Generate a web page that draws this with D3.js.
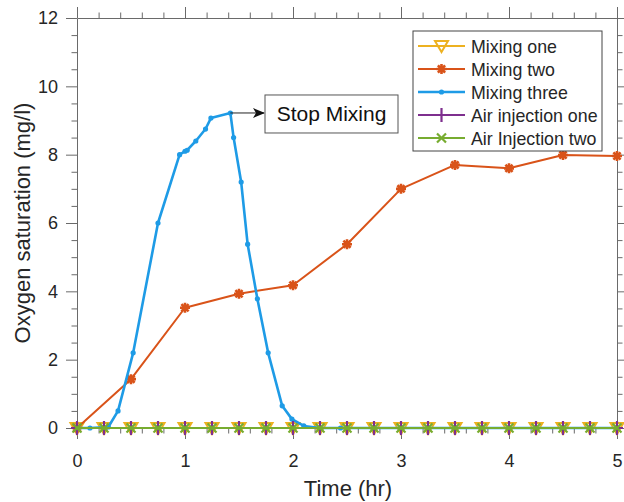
<!DOCTYPE html>
<html>
<head>
<meta charset="utf-8">
<script src="https://cdn.jsdelivr.net/npm/d3@7"></script>
<style>
  body { margin: 0; background: #fff; }
  svg { display: block; font-family: "Liberation Sans", Arial, sans-serif; }
</style>
</head>
<body>
<div id="chart"></div>
<script>
// time grid for the flat series (hr)
const timesFlat = [0, 0.25, 0.5, 0.75, 1, 1.25, 1.5, 1.75, 2, 2.25, 2.5, 2.75, 3, 3.25, 3.5, 3.75, 4, 4.25, 4.5, 4.75, 5];
const mixingOne = [0, 0, 0, 0, 0, 0, 0, 0, 0, 0, 0, 0, 0, 0, 0, 0, 0, 0, 0, 0, 0];
const airOne    = [0, 0, 0, 0, 0, 0, 0, 0, 0, 0, 0, 0, 0, 0, 0, 0, 0, 0, 0, 0, 0];
const airTwo    = [0, 0, 0, 0, 0, 0, 0, 0, 0, 0, 0, 0, 0, 0, 0, 0, 0, 0, 0, 0, 0];

const timesTwo = [0, 0.5, 1, 1.5, 2, 2.5, 3, 3.5, 4, 4.5, 5];
const mixingTwo = [0, 1.43, 3.52, 3.93, 4.18, 5.38, 7.0, 7.7, 7.6, 7.99, 7.96];

const timesThree = [0, 0.12, 0.29, 0.38, 0.52, 0.75, 0.95, 1.0, 1.02, 1.1, 1.19, 1.24, 1.42, 1.45, 1.52, 1.58,
                    1.67, 1.77, 1.9, 1.99, 2.1, 2.25, 2.44, 2.75, 3, 3.5, 4, 4.5, 5];
const mixingThree = [0, 0, 0.03, 0.5, 2.2, 6.0, 8.0, 8.1, 8.13, 8.4, 8.75, 9.07, 9.22, 8.5, 7.2, 5.38,
                     3.78, 2.2, 0.65, 0.26, 0.06, 0, 0, 0, 0, 0, 0, 0, 0];

const seriesNames = ["Mixing one", "Mixing two", "Mixing three", "Air injection one", "Air Injection two"];
const seriesColours = ["#EDB120", "#D95319", "#1E9BE6", "#7E2F8E", "#77AC30"];
const xTicks = [0, 1, 2, 3, 4, 5];
const yTicks = [0, 2, 4, 6, 8, 10, 12];
const annotation = { t: 1.42, v: 9.22, text: "Stop Mixing" };

const width = 624, height = 502;
const margin = { top: 18, right: 7, bottom: 74, left: 77 };
const axisGrey = "#6a6a6a";
const textCol = "#262626";

const svg = d3.select("#chart").append("svg")
  .attr("width", width).attr("height", height);

const x = d3.scaleLinear().domain([0, 5]).range([margin.left, width - margin.right]);
const y = d3.scaleLinear().domain([0, 12]).range([height - margin.bottom, margin.top]);

const xMinor = d3.range(0, 5.0001, 0.2).filter(v => Math.abs(v - Math.round(v)) > 1e-6);
const yMinor = d3.range(0, 12.0001, 0.5).filter(v => Math.abs(v / 2 - Math.round(v / 2)) > 1e-6);

function styleAxis(g) {
  g.select(".domain").attr("stroke", axisGrey).attr("stroke-width", 1);
  g.selectAll(".tick line").attr("stroke", axisGrey);
  g.selectAll(".tick text").attr("fill", textCol).style("font-size", "18px");
}

// bottom / top
const yBot = y(0), yTop = y(12), xLeft = x(0), xRight = x(5);
svg.append("g").attr("transform", `translate(0,${yBot})`)
  .call(d3.axisBottom(x).tickValues(xTicks).tickSize(11).tickSizeOuter(0).tickPadding(15).tickFormat(d3.format("d")))
  .call(styleAxis);
svg.append("g").attr("transform", `translate(0,${yBot})`)
  .call(d3.axisBottom(x).tickValues(xMinor).tickSize(5.5).tickFormat(""))
  .call(styleAxis).select(".domain").remove();
svg.append("g").attr("transform", `translate(0,${yTop})`)
  .call(d3.axisTop(x).tickValues(xTicks).tickSize(11).tickSizeOuter(0).tickFormat(""))
  .call(styleAxis);
svg.append("g").attr("transform", `translate(0,${yTop})`)
  .call(d3.axisTop(x).tickValues(xMinor).tickSize(5.5).tickFormat(""))
  .call(styleAxis).select(".domain").remove();

// left / right
svg.append("g").attr("transform", `translate(${xLeft},0)`)
  .call(d3.axisLeft(y).tickValues(yTicks).tickSize(11).tickSizeOuter(0).tickPadding(8).tickFormat(d3.format("d")))
  .call(styleAxis);
svg.append("g").attr("transform", `translate(${xLeft},0)`)
  .call(d3.axisLeft(y).tickValues(yMinor).tickSize(5.5).tickFormat(""))
  .call(styleAxis).select(".domain").remove();
svg.append("g").attr("transform", `translate(${xRight},0)`)
  .call(d3.axisRight(y).tickValues(yTicks).tickSize(11).tickSizeOuter(0).tickFormat(""))
  .call(styleAxis);
svg.append("g").attr("transform", `translate(${xRight},0)`)
  .call(d3.axisRight(y).tickValues(yMinor).tickSize(5.5).tickFormat(""))
  .call(styleAxis).select(".domain").remove();

// axis titles
svg.append("text")
  .attr("x", (xLeft + xRight) / 2 + 1).attr("y", 496)
  .attr("text-anchor", "middle").attr("fill", textCol)
  .style("font-size", "22px").text("Time (hr)");
svg.append("text")
  .attr("transform", `translate(30,${(yTop + yBot) / 2}) rotate(-90)`)
  .attr("text-anchor", "middle").attr("fill", textCol)
  .style("font-size", "22px").text("Oxygen saturation (mg/l)");

// marker painters
function marker(g, kind, colour) {
  if (kind === "tri") {
    g.append("path").attr("d", "M-6.5,-5 L6.5,-5 L0,6 Z")
      .attr("fill", "none").attr("stroke", colour).attr("stroke-width", 2);
  } else if (kind === "star") {
    g.append("path").attr("d", "M-5,0 L5,0 M0,-5 L0,5 M-3.6,-3.6 L3.6,3.6 M-3.6,3.6 L3.6,-3.6")
      .attr("stroke", colour).attr("stroke-width", 2.6);
  } else if (kind === "dot") {
    g.append("circle").attr("r", 2.6).attr("fill", colour);
  } else if (kind === "plus") {
    g.append("path").attr("d", "M-6,0 L6,0 M0,-7 L0,7")
      .attr("stroke", colour).attr("stroke-width", 2.2);
  } else if (kind === "cross") {
    g.append("path").attr("d", "M-4.5,-4.5 L4.5,4.5 M-4.5,4.5 L4.5,-4.5")
      .attr("stroke", colour).attr("stroke-width", 2.2);
  }
}

const series = [
  { name: seriesNames[0], t: timesFlat, v: mixingOne, colour: seriesColours[0], m: "tri", w: 2 },
  { name: seriesNames[1], t: timesTwo, v: mixingTwo, colour: seriesColours[1], m: "star", w: 2 },
  { name: seriesNames[2], t: timesThree, v: mixingThree, colour: seriesColours[2], m: "dot", w: 2.6 },
  { name: seriesNames[3], t: timesFlat, v: airOne, colour: seriesColours[3], m: "plus", w: 2 },
  { name: seriesNames[4], t: timesFlat, v: airTwo, colour: seriesColours[4], m: "cross", w: 2.2 }
];

const line = d3.line().x(d => x(d[0])).y(d => y(d[1]));
const plot = svg.append("g");

series.forEach(s => {
  const pts = s.t.map((t, i) => [t, s.v[i]]);
  const g = plot.append("g");
  g.append("path").datum(pts).attr("d", line)
    .attr("fill", "none").attr("stroke", s.colour).attr("stroke-width", s.w)
    .attr("stroke-linejoin", "round");
  pts.forEach(p => {
    marker(g.append("g").attr("transform", `translate(${x(p[0])},${y(p[1])})`), s.m, s.colour);
  });
});

// annotation arrow + box
const ax = x(annotation.t), ay = y(annotation.v);
const boxX = 265, boxW = 133, boxH = 38;
svg.append("defs").append("marker")
  .attr("id", "arrow").attr("viewBox", "0 0 12 10").attr("refX", 11).attr("refY", 5)
  .attr("markerWidth", 12).attr("markerHeight", 10).attr("markerUnits", "userSpaceOnUse")
  .attr("orient", "auto")
  .append("path").attr("d", "M0,0 L12,5 L0,10 L3,5 Z").attr("fill", "#111");
svg.append("line")
  .attr("x1", ax).attr("y1", ay).attr("x2", boxX - 1).attr("y2", ay)
  .attr("stroke", "#222").attr("stroke-width", 1).attr("marker-end", "url(#arrow)");
svg.append("rect")
  .attr("x", boxX).attr("y", ay - 18).attr("width", boxW).attr("height", boxH)
  .attr("fill", "#fff").attr("stroke", "#555").attr("stroke-width", 1);
svg.append("text")
  .attr("x", boxX + boxW / 2).attr("y", ay + 8)
  .attr("text-anchor", "middle").attr("fill", "#111")
  .style("font-size", "21px").text(annotation.text);

// legend
const lg = svg.append("g").attr("transform", "translate(413,31)");
lg.append("rect").attr("width", 189).attr("height", 120)
  .attr("fill", "#fff").attr("stroke", "#444").attr("stroke-width", 1);
series.forEach((s, i) => {
  const row = lg.append("g").attr("transform", `translate(0,${15 + i * 23})`);
  row.append("line").attr("x1", 5).attr("x2", 52).attr("y1", 0).attr("y2", 0)
    .attr("stroke", s.colour).attr("stroke-width", s.w);
  marker(row.append("g").attr("transform", "translate(28.5,0)"), s.m, s.colour);
  row.append("text").attr("x", 58).attr("y", 6.5)
    .attr("fill", textCol).style("font-size", "17.8px").text(s.name);
});
</script>
</body>
</html>
